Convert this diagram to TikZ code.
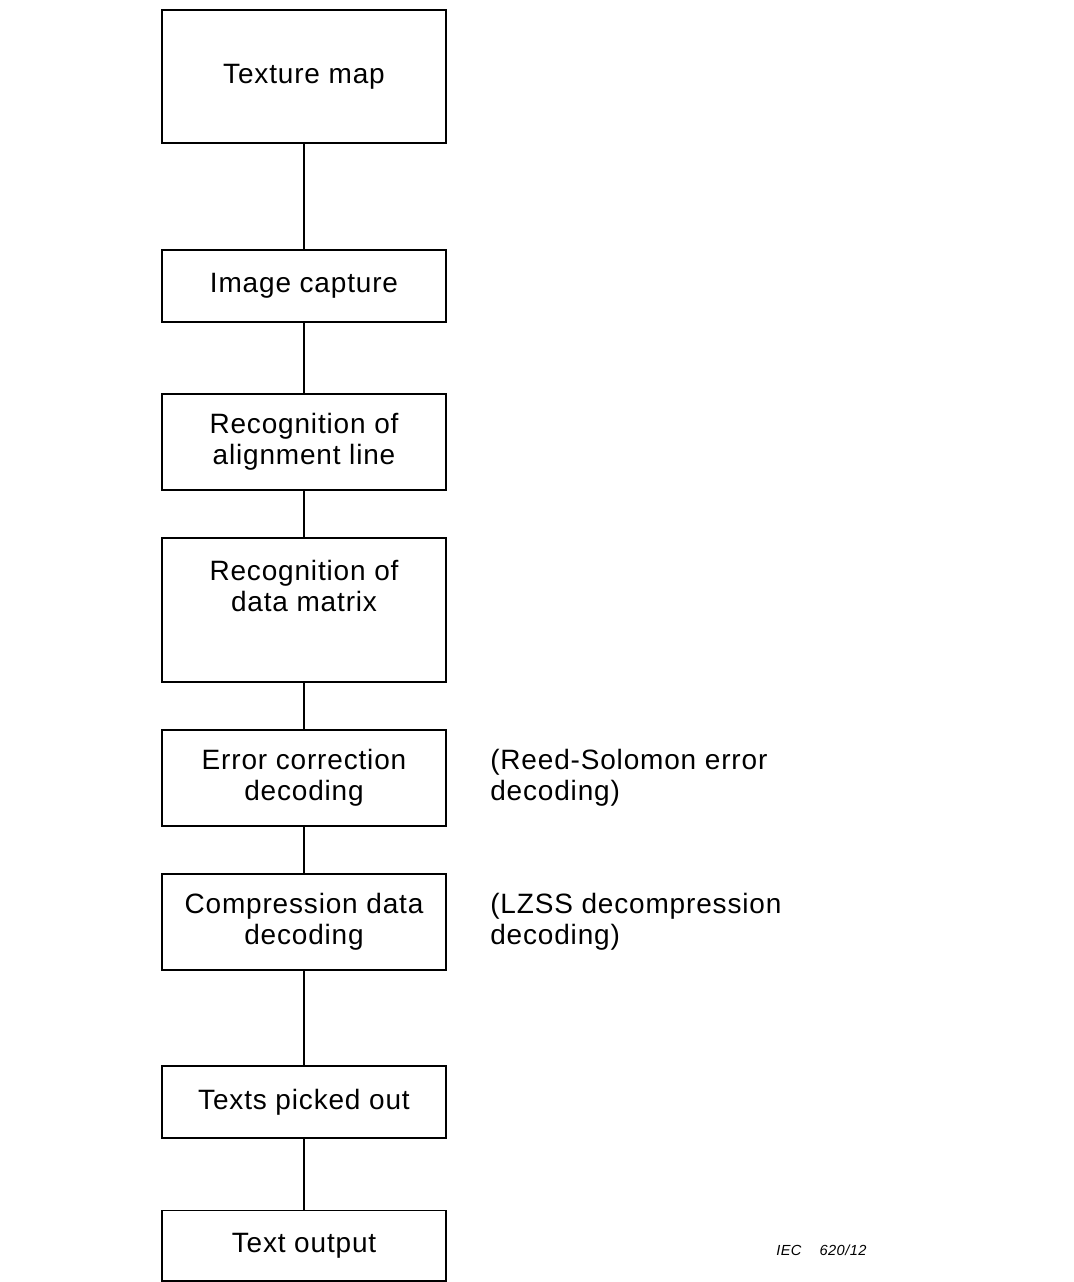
\documentclass[tikz,border=0pt]{standalone}
\usepackage{fontspec}
\setmainfont[LetterSpace=3]{Liberation Sans}
\usepackage{tikz}

\tikzset{
    box/.style={draw, line width=1.4pt, minimum width=7.1cm, align=center, inner sep=0pt,
        font=\fontsize{19.9}{22}\selectfont},
    side/.style={anchor=west, align=left, inner sep=0pt, font=\fontsize{19.9}{22}\selectfont},
    link/.style={line width=1.4pt}
}

\begin{document}
\begin{tikzpicture}[x=0.025cm, y=-0.025cm]
        \useasboundingbox (0,0) rectangle (1073,1282);

        \node[box, minimum height=3.325cm] (texture) at (304,76.5) {Texture map};
        \node[box, minimum height=1.8cm] (capture) at (304,286) {Image capture};
        \node[box, minimum height=2.4cm] (align) at (304,442) {Recognition of\\alignment line};
        \node[box, minimum height=3.6cm] (matrix) at (304,610) {};
        \node[side, anchor=center, align=center] (matrixtext) at (304,586) {Recognition of\\data matrix};
        \node[box, minimum height=2.4cm] (error) at (304,778) {Error correction\\decoding};
        \node[box, minimum height=2.4cm] (compress) at (304,922) {Compression data\\decoding};
        \node[box, minimum height=1.8cm] (picked) at (304,1102) {Texts picked out};
        \node[box, minimum height=1.75cm] (output) at (304,1245.5) {Text output};

        \node[side] (reedsol) at (490,778) {(Reed-Solomon error\\decoding)};
        \node[side] (lzss) at (490,922) {(LZSS decompression\\decoding)};

        \node[anchor=base west, inner sep=0pt, font=\fontsize{10.4}{12}\selectfont\itshape] (figno)
            at (776,1255) {IEC\hspace{0.45cm}620/12};

        \draw[link] (texture) -- (capture);
        \draw[link] (capture) -- (align);
        \draw[link] (align) -- (matrix);
        \draw[link] (matrix) -- (error);
        \draw[link] (error) -- (compress);
        \draw[link] (compress) -- (picked);
        \draw[link] (picked) -- (output);
    \end{tikzpicture}
\end{document}
